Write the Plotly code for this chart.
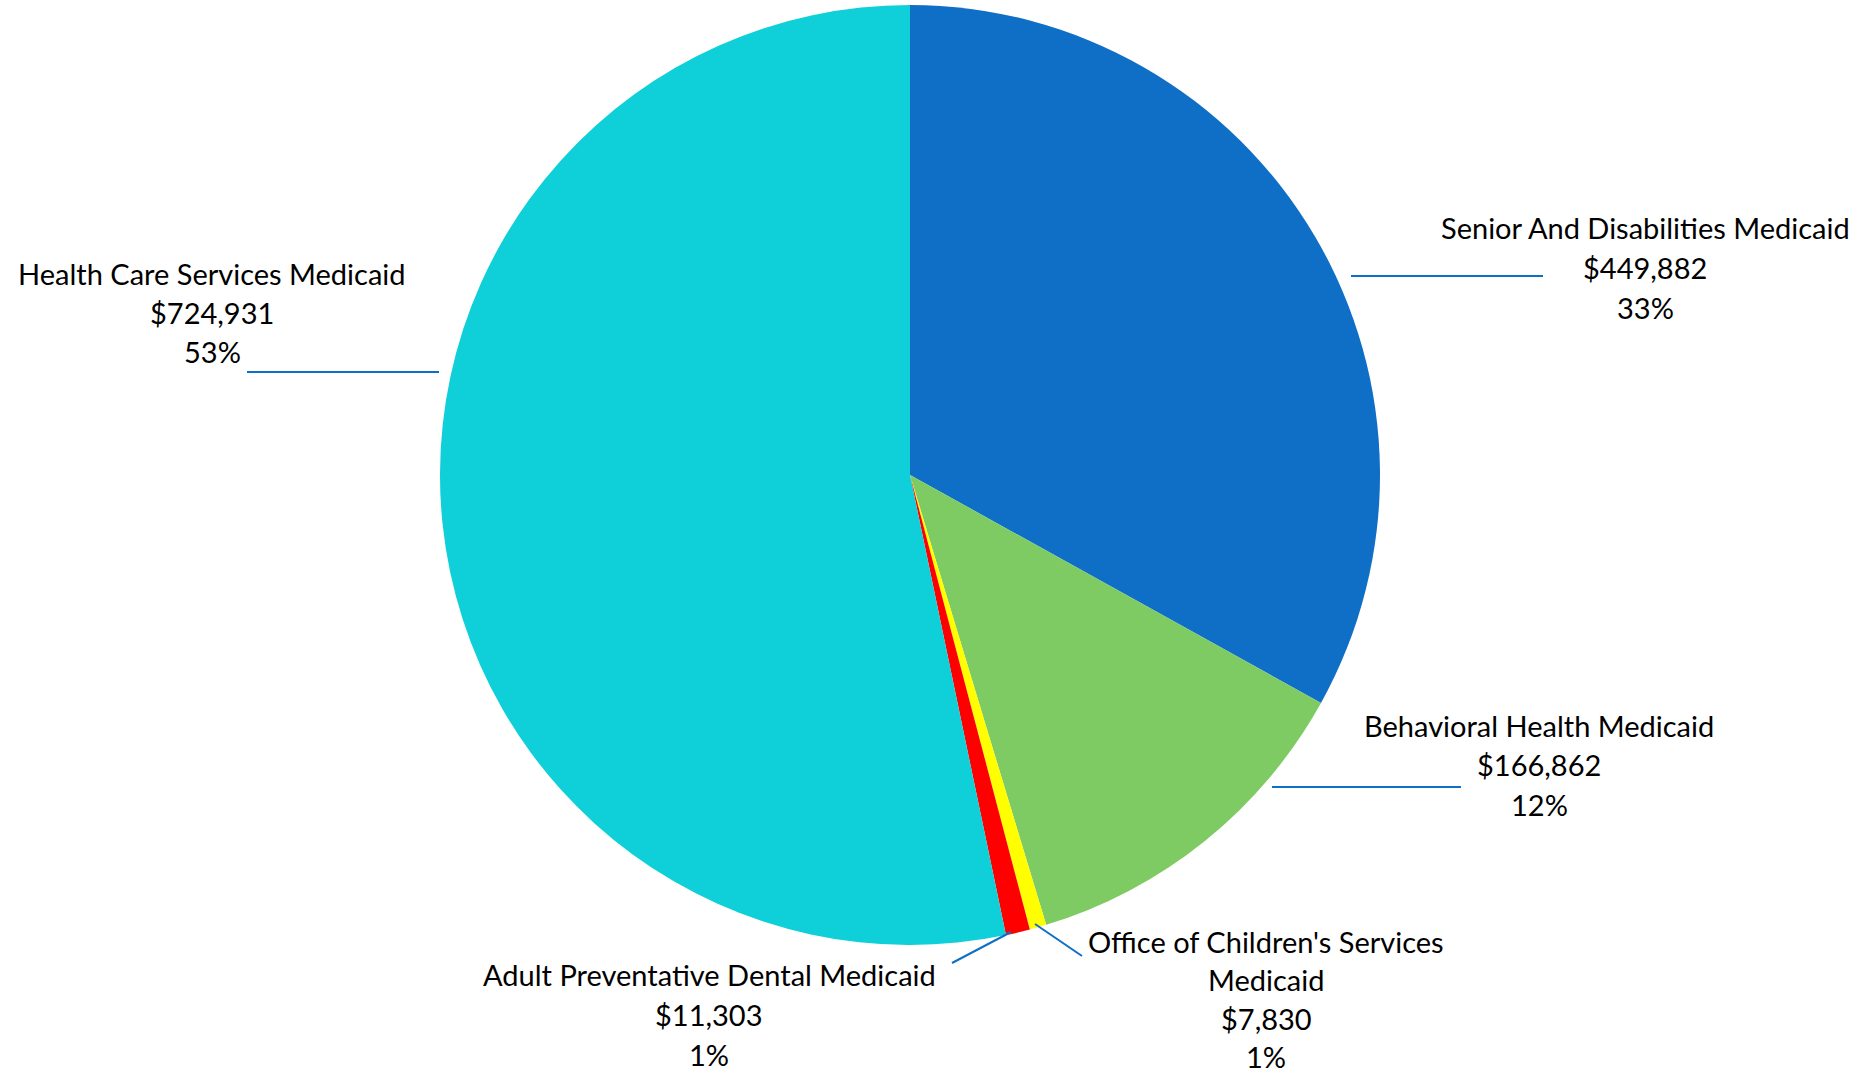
import plotly.graph_objects as go

W, H = 1871, 1075

names = ["Senior And Disabilities Medicaid", "Behavioral Health Medicaid",
         "Office of Children's Services Medicaid", "Adult Preventative Dental Medicaid",
         "Health Care Services Medicaid"]
label_lines = [["Senior And Disabilities Medicaid"], ["Behavioral Health Medicaid"],
               ["Office of Children's Services", "Medicaid"], ["Adult Preventative Dental Medicaid"],
               ["Health Care Services Medicaid"]]
values = [449882, 166862, 7830, 11303, 724931]
colors = ["#0F6FC6", "#7ECB63", "#FFFF00", "#FF0000", "#0FCFD8"]

# label block layout (pixel centre x, first-line y, line gap) and leader lines (window pixels)
label_pos = [(1645, 228, 39.5), (1539, 725, 39.5), (1266, 941, 38.5), (709, 975, 39.5), (212, 273, 39.5)]
leaders = [((1351, 276), (1543, 276)), ((1272, 787), (1461, 787)),
           ((1035, 924), (1082, 956)), ((1011, 932), (952, 963)),
           ((247, 372), (439, 372))]

def px(x):
    return x / W

def py(y):
    return 1 - y / H

total = sum(values)
fig = go.Figure(go.Pie(
    labels=names, values=values, sort=False, direction="clockwise", rotation=0,
    marker=dict(colors=colors, line=dict(width=0)), textinfo="none",
    hoverinfo="label+value+percent",
    domain=dict(x=[px(440), px(1380)], y=[py(945), py(5)]),
))

for lines, v, (cx, cy, gap) in zip(label_lines, values, label_pos):
    pct = round(v / total * 100)
    rows = lines + [f"${v:,}", f"{pct}%"]
    for i, r in enumerate(rows):
        fig.add_annotation(x=px(cx), y=py(cy + i * gap), xref="paper", yref="paper",
                           text=r, showarrow=False, xanchor="center", yanchor="middle",
                           font=dict(family="Lato, Carlito, sans-serif", size=29, color="#000000"))

for (x0, y0), (x1, y1) in leaders:
    fig.add_shape(type="line", xref="paper", yref="paper", x0=px(x0), y0=py(y0), x1=px(x1), y1=py(y1),
                  line=dict(color="#0F6FC6", width=2))

fig.update_layout(width=W, height=H, margin=dict(l=0, r=0, t=0, b=0), showlegend=False,
                  paper_bgcolor="white", plot_bgcolor="white")
# drop the page's default body margin so the figure fills the window exactly
fig.write_html("out.html", config={"displayModeBar": False},
               post_script="document.body.style.margin='0';")
